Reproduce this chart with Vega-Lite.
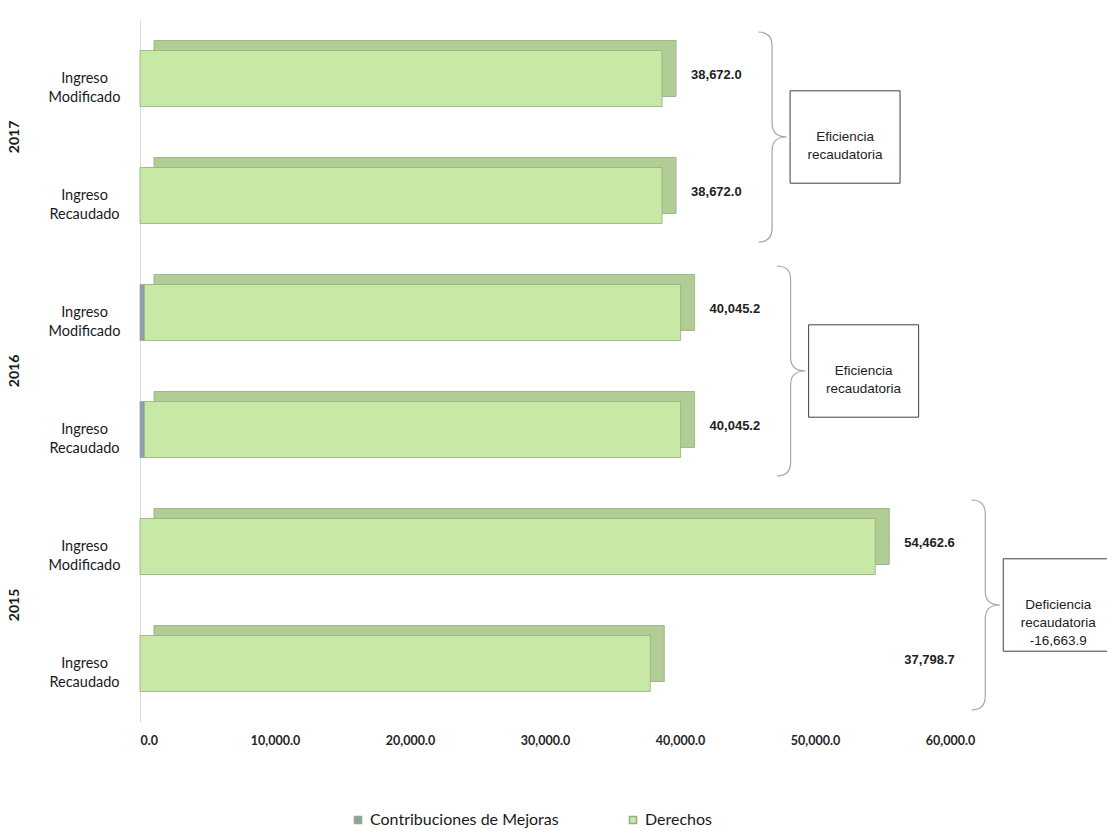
{
  "$schema": "https://vega.github.io/schema/vega-lite/v6.json",
  "width": 945,
  "height": 702,
  "autosize": {"type": "none"},
  "padding": {"left": 140, "top": 20, "right": 22, "bottom": 111},
  "background": "white",
  "config": {"view": {"stroke": null}},
  "data": {
    "values": [
      {"anio": "2017", "tipo": "Ingreso Modificado", "concepto": "Derechos", "valor": 38672.0},
      {"anio": "2017", "tipo": "Ingreso Recaudado", "concepto": "Derechos", "valor": 38672.0},
      {"anio": "2016", "tipo": "Ingreso Modificado", "concepto": "Contribuciones de Mejoras", "valor": 320.0},
      {"anio": "2016", "tipo": "Ingreso Modificado", "concepto": "Derechos", "valor": 39725.2},
      {"anio": "2016", "tipo": "Ingreso Recaudado", "concepto": "Contribuciones de Mejoras", "valor": 320.0},
      {"anio": "2016", "tipo": "Ingreso Recaudado", "concepto": "Derechos", "valor": 39725.2},
      {"anio": "2015", "tipo": "Ingreso Modificado", "concepto": "Derechos", "valor": 54462.6},
      {"anio": "2015", "tipo": "Ingreso Recaudado", "concepto": "Derechos", "valor": 37798.7}
    ]
  },
  "transform": [{"calculate": "datum.anio + ' ' + datum.tipo", "as": "key"}],
  "layer": [
    {
      "transform": [{"aggregate": [{"op": "sum", "field": "valor", "as": "total"}], "groupby": ["key"]}],
      "mark": {"type": "bar", "height": 56, "xOffset": 14, "x2Offset": 14, "yOffset": -10, "color": "#b1cc94", "stroke": "#93ad7c", "strokeWidth": 0.8},
      "encoding": {
        "y": {"field": "key", "type": "nominal", "title": null,
          "sort": ["2017 Ingreso Modificado", "2017 Ingreso Recaudado", "2016 Ingreso Modificado", "2016 Ingreso Recaudado", "2015 Ingreso Modificado", "2015 Ingreso Recaudado"],
          "scale": {"paddingInner": 0, "paddingOuter": 0},
          "axis": {"domainColor": "#d9d9d9", "ticks": false, "grid": false, "labelExpr": "['Ingreso', split(datum.value, ' ')[2]]", "labelAlign": "center", "labelBaseline": "middle", "labelPadding": 56, "labelFont": "Lato", "labelFontSize": 14.5, "labelColor": "#1a1a1a", "labelLineHeight": 19, "title": null}},
        "x": {"field": "total", "type": "quantitative", "title": null,
          "scale": {"domain": [0, 70000], "nice": false},
          "axis": {"values": [0, 10000, 20000, 30000, 40000, 50000, 60000], "format": ",.1f", "domain": false, "ticks": false, "grid": false, "labelFont": "Lato", "labelFontWeight": "bold", "labelFontSize": 12.5, "labelColor": "#262626", "labelPadding": 12, "title": null}}
      }
    },
    {
      "mark": {"type": "bar", "height": 56, "stroke": "#93ad7c", "strokeWidth": 0.8},
      "encoding": {
        "y": {"field": "key", "type": "nominal", "title": null,
          "sort": ["2017 Ingreso Modificado", "2017 Ingreso Recaudado", "2016 Ingreso Modificado", "2016 Ingreso Recaudado", "2015 Ingreso Modificado", "2015 Ingreso Recaudado"]},
        "x": {"field": "valor", "type": "quantitative", "stack": "zero", "title": null},
        "color": {"field": "concepto", "type": "nominal",
          "scale": {"domain": ["Contribuciones de Mejoras", "Derechos"], "range": ["#8f9bbd", "#c8e8a5"]},
          "legend": {"orient": "none", "legendX": 210, "legendY": 792, "direction": "horizontal", "title": null, "symbolType": "square", "symbolSize": 50, "labelFont": "Lato", "labelFontSize": 16, "labelColor": "#1a1a1a", "labelLimit": 400, "columnPadding": 66, "labelOffset": 4, "padding": 0}},
        "order": {"field": "concepto", "sort": "ascending"}
      }
    },
    {
      "transform": [{"filter": "datum.tipo == 'Ingreso Recaudado' && datum.concepto == 'Derechos'"}],
      "mark": {"type": "text", "angle": 270, "dy": -125, "font": "Lato", "fontWeight": "bold", "fontSize": 14, "align": "center", "baseline": "middle", "color": "#1a1a1a"},
      "encoding": {
        "y": {"field": "key", "type": "nominal", "bandPosition": 0, "title": null,
          "sort": ["2017 Ingreso Modificado", "2017 Ingreso Recaudado", "2016 Ingreso Modificado", "2016 Ingreso Recaudado", "2015 Ingreso Modificado", "2015 Ingreso Recaudado"]},
        "x": {"datum": 0, "type": "quantitative"},
        "text": {"field": "anio"}
      }
    },
    {
      "transform": [
        {"aggregate": [{"op": "sum", "field": "valor", "as": "total"}], "groupby": ["anio", "tipo", "key"]},
        {"joinaggregate": [{"op": "max", "field": "total", "as": "maxTotal"}], "groupby": ["anio"]}
      ],
      "mark": {"type": "text", "align": "left", "baseline": "middle", "dx": 29, "dy": -4, "font": "Liberation Sans", "fontSize": 13, "fontWeight": "bold", "color": "#222"},
      "encoding": {
        "y": {"field": "key", "type": "nominal", "title": null,
          "sort": ["2017 Ingreso Modificado", "2017 Ingreso Recaudado", "2016 Ingreso Modificado", "2016 Ingreso Recaudado", "2015 Ingreso Modificado", "2015 Ingreso Recaudado"]},
        "x": {"field": "maxTotal", "type": "quantitative"},
        "text": {"field": "total", "type": "quantitative", "format": ",.1f"}
      }
    },
    {
      "transform": [
        {"aggregate": [{"op": "sum", "field": "valor", "as": "total"}], "groupby": ["anio", "tipo", "key"]},
        {"joinaggregate": [{"op": "max", "field": "total", "as": "maxTotal"}], "groupby": ["anio"]},
        {"filter": "datum.tipo == 'Ingreso Recaudado'"}
      ],
      "mark": {"type": "point", "shape": "M-0.13,-1 Q0,-1 0,-0.87 L0,-0.13 Q0,0 0.14,0 Q0,0 0,0.13 L0,0.87 Q0,1 -0.13,1", "size": 44100, "filled": false, "stroke": "#a6a6a6", "strokeWidth": 1.2, "opacity": 1, "xOffset": 110},
      "encoding": {
        "y": {"field": "key", "type": "nominal", "bandPosition": 0, "title": null,
          "sort": ["2017 Ingreso Modificado", "2017 Ingreso Recaudado", "2016 Ingreso Modificado", "2016 Ingreso Recaudado", "2015 Ingreso Modificado", "2015 Ingreso Recaudado"]},
        "x": {"field": "maxTotal", "type": "quantitative"}
      }
    },
    {
      "transform": [
        {"aggregate": [{"op": "sum", "field": "valor", "as": "total"}], "groupby": ["anio", "tipo", "key"]},
        {"joinaggregate": [{"op": "max", "field": "total", "as": "maxTotal"}], "groupby": ["anio"]},
        {"filter": "datum.tipo == 'Ingreso Recaudado'"}
      ],
      "mark": {"type": "point", "shape": "M-1,-0.84 L1,-0.84 L1,0.84 L-1,0.84 Z", "size": 12100, "filled": true, "fill": "white", "stroke": "#404040", "strokeWidth": 1, "opacity": 1, "xOffset": 183},
      "encoding": {
        "y": {"field": "key", "type": "nominal", "bandPosition": 0, "title": null,
          "sort": ["2017 Ingreso Modificado", "2017 Ingreso Recaudado", "2016 Ingreso Modificado", "2016 Ingreso Recaudado", "2015 Ingreso Modificado", "2015 Ingreso Recaudado"]},
        "x": {"field": "maxTotal", "type": "quantitative"}
      }
    },
    {
      "transform": [
        {"aggregate": [{"op": "sum", "field": "valor", "as": "total"}], "groupby": ["anio", "tipo", "key"]},
        {"joinaggregate": [{"op": "max", "field": "total", "as": "maxTotal"}], "groupby": ["anio"]},
        {"filter": "datum.tipo == 'Ingreso Recaudado'"},
        {"calculate": "datum.total >= datum.maxTotal ? 'Eficiencia\\nrecaudatoria' : 'Deficiencia\\nrecaudatoria\\n-' + format(datum.maxTotal - datum.total, ',.1f')", "as": "nota"}
      ],
      "mark": {"type": "text", "align": "center", "baseline": "middle", "lineBreak": "\n", "lineHeight": 18, "font": "Liberation Sans", "fontSize": 13.5, "color": "#222", "xOffset": 183},
      "encoding": {
        "y": {"field": "key", "type": "nominal", "bandPosition": 0, "title": null,
          "sort": ["2017 Ingreso Modificado", "2017 Ingreso Recaudado", "2016 Ingreso Modificado", "2016 Ingreso Recaudado", "2015 Ingreso Modificado", "2015 Ingreso Recaudado"]},
        "x": {"field": "maxTotal", "type": "quantitative"},
        "text": {"field": "nota"}
      }
    }
  ]
}
